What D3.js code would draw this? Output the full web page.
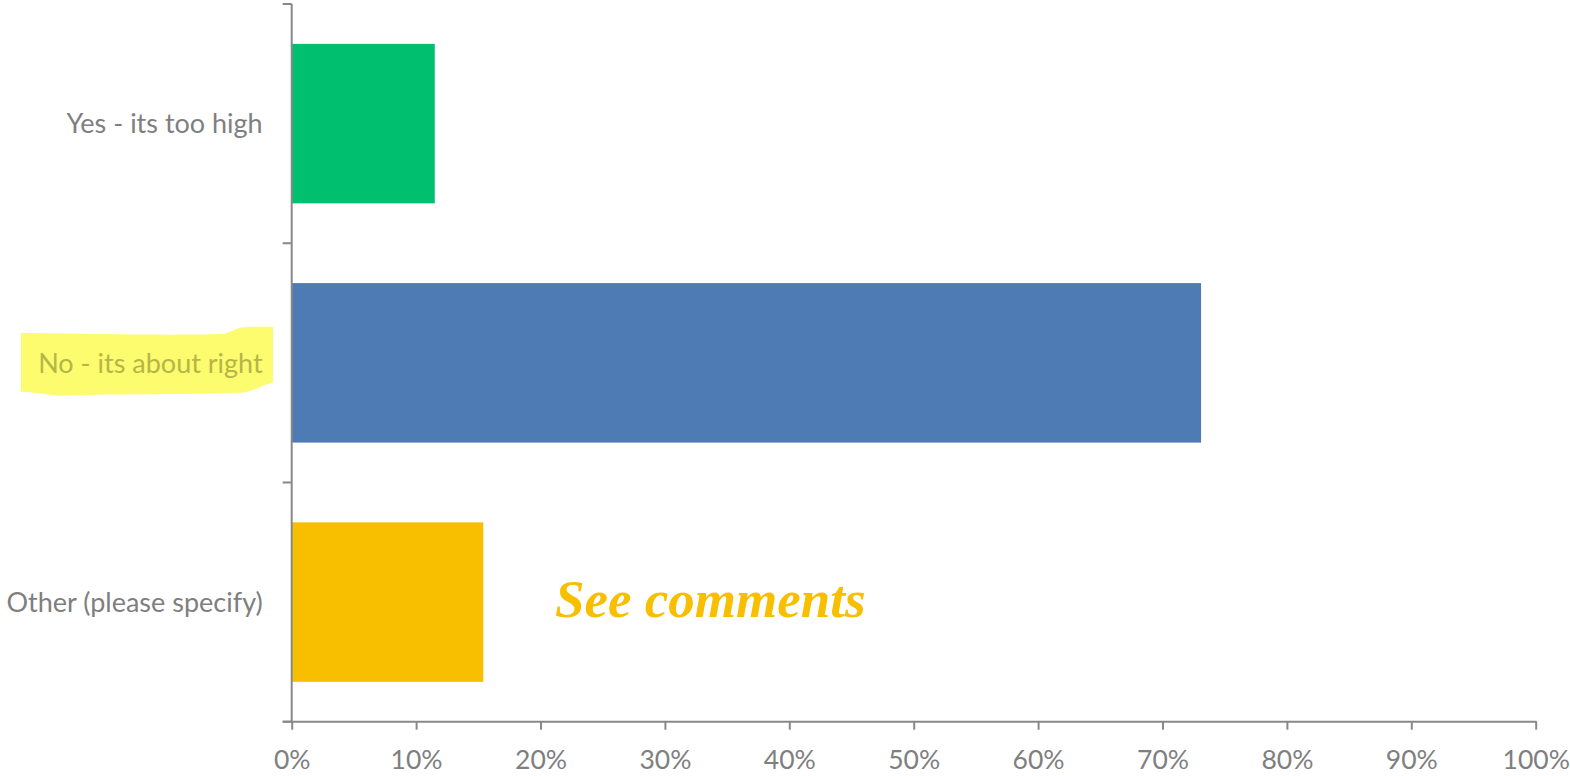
<!DOCTYPE html>
<html>
<head>
<meta charset="utf-8">
<script src="https://cdn.jsdelivr.net/npm/d3@7"></script>
<style>
  html, body { margin: 0; padding: 0; background: #fff; }
  svg { display: block; }
</style>
</head>
<body>
<div id="chart"></div>
<script>
// Survey answers and share of respondents (percent)
const categories = ["Yes - its too high", "No - its about right", "Other (please specify)"];
const values = [11.5, 73.1, 15.4];
const barColors = ["#00bf6f", "#4e7bb3", "#f8bf00"];
const xTicks = [0, 10, 20, 30, 40, 50, 60, 70, 80, 90, 100];
const highlighted = "No - its about right";
const noteText = "See comments";

const W = 1570, H = 776;
const margin = { top: 4, left: 291.7, right: 34.3, bottom: 54.3 };
const axisColor = "#888888";
const labelColor = "#7f7f7f";
const font = "Lato, 'Open Sans', sans-serif";

const svg = d3.select("#chart").append("svg")
  .attr("width", W).attr("height", H);

const x = d3.scaleLinear().domain([0, 100]).range([margin.left, W - margin.right]);
const y = d3.scaleBand().domain(categories)
  .range([margin.top, H - margin.bottom])
  .paddingInner(1 / 3).paddingOuter(1 / 6);

// highlighter stroke behind the middle category label
const hy = y(highlighted) + y.bandwidth() / 2;
svg.append("path")
  .attr("d", `M21,${hy - 30} C80,${hy - 29} 180,${hy - 27} 225,${hy - 29}
              C236,${hy - 33} 240,${hy - 37} 252,${hy - 36} L273,${hy - 36}
              L273,${hy + 20} C262,${hy + 22} 255,${hy + 28} 240,${hy + 30}
              C180,${hy + 32} 100,${hy + 31} 60,${hy + 33}
              C40,${hy + 31} 28,${hy + 29} 21,${hy + 29} Z`)
  .attr("fill", "#fcfc6e");

// bars
svg.selectAll("rect.bar")
  .data(categories)
  .join("rect")
  .attr("class", "bar")
  .attr("x", x(0))
  .attr("y", d => y(d))
  .attr("width", (d, i) => x(values[i]) - x(0))
  .attr("height", y.bandwidth())
  .attr("fill", (d, i) => barColors[i]);

// value axis along the bottom
const xAxis = svg.append("g")
  .attr("transform", `translate(0,${H - margin.bottom})`)
  .call(d3.axisBottom(x).tickValues(xTicks).tickFormat(d => d + "%")
    .tickSizeInner(8).tickSizeOuter(0).tickPadding(20));
xAxis.select(".domain").attr("stroke", axisColor).attr("stroke-width", 2)
  .attr("d", `M${margin.left - 9},0H${W - margin.right + 1}`);
xAxis.selectAll(".tick line").attr("stroke", axisColor).attr("stroke-width", 2);
xAxis.selectAll(".tick text")
  .attr("fill", labelColor).style("font-family", font).style("font-size", "26.5px");

// category axis on the left, ticks on the band boundaries
const bounds = d3.range(categories.length + 1).map(i => margin.top + i * y.step());
const yAxisG = svg.append("g");
yAxisG.append("line")
  .attr("x1", x(0)).attr("x2", x(0))
  .attr("y1", margin.top).attr("y2", H - margin.bottom)
  .attr("stroke", axisColor).attr("stroke-width", 2);
yAxisG.selectAll("line.tick")
  .data(bounds)
  .join("line")
  .attr("class", "tick")
  .attr("x1", x(0) - 9).attr("x2", x(0))
  .attr("y1", d => d).attr("y2", d => d)
  .attr("stroke", axisColor).attr("stroke-width", 2);
yAxisG.selectAll("text")
  .data(categories)
  .join("text")
  .attr("x", x(0) - 29)
  .attr("y", d => y(d) + y.bandwidth() / 2)
  .attr("dy", "0.36em")
  .attr("text-anchor", "end")
  .attr("fill", d => d === highlighted ? "#b6b648" : labelColor)
  .style("font-family", font)
  .style("font-size", "27px")
  .text(d => d);

// note next to the last bar
svg.append("text")
  .attr("x", 555)
  .attr("y", y(categories[2]) + y.bandwidth() / 2 + 15)
  .attr("fill", "#f8bf00")
  .style("font-family", "'Liberation Serif', serif")
  .style("font-weight", "bold")
  .style("font-style", "italic")
  .style("font-size", "53px")
  .text(noteText);
</script>
</body>
</html>
